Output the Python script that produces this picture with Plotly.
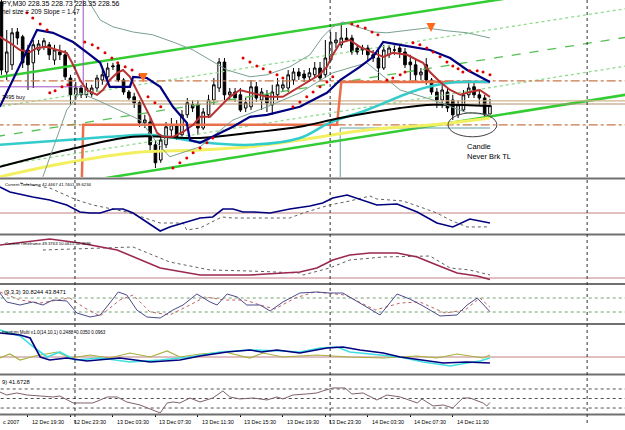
import plotly.graph_objects as go

# ---------------- DATA ----------------
# candle bars (bar index, 30-minute bars; 0 = 12 Dec 19:30)
bar_index = list(range(-5, 88))
open_ = [231.15,229.40,229.58,230.40,230.28,229.95,229.63,229.95,230.03,230.08,229.70,229.90,229.83,229.25,228.83,229.00,228.83,228.85,229.00,229.20,
         229.28,229.53,229.58,229.20,228.90,228.78,228.63,228.13,228.15,227.58,227.20,227.58,227.95,228.08,227.83,228.33,228.58,228.58,228.00,228.33,
         228.70,229.00,229.65,228.83,228.90,228.83,228.50,228.53,229.03,228.70,228.83,228.58,228.83,229.00,229.00,229.20,229.40,229.35,229.28,229.33,
         229.50,229.33,229.70,230.13,230.08,230.25,230.25,230.00,229.95,230.00,229.83,229.75,229.50,229.83,229.95,230.00,229.90,229.65,229.58,229.33,
         229.58,229.20,228.90,228.70,228.90,228.70,228.33,228.45,228.83,229.03,228.83,228.75,228.35]
high = [231.20,230.45,230.50,230.50,230.33,230.08,230.20,230.20,230.25,230.15,230.08,230.08,229.95,229.33,229.15,229.08,229.13,229.08,229.33,229.45,
        229.63,229.63,229.65,229.25,228.95,228.88,228.70,228.33,228.25,227.70,227.83,228.15,228.25,228.20,228.45,228.75,228.70,228.70,228.50,228.83,
        229.25,229.75,229.75,229.00,229.00,229.00,228.75,229.20,229.15,229.00,228.95,229.08,229.25,229.20,229.45,229.50,229.50,229.45,229.50,229.65,
        229.65,230.20,230.40,230.40,230.58,230.50,230.33,230.08,230.08,230.08,229.95,229.95,230.08,230.08,230.08,230.08,230.00,229.83,229.70,229.50,
        229.75,229.25,229.00,229.08,229.00,228.83,228.70,228.95,229.20,229.15,228.95,228.83,228.73]
low = [229.33,229.20,229.45,230.08,229.50,228.95,229.00,229.83,229.95,229.70,229.58,229.70,229.20,228.58,228.70,228.75,228.75,228.78,228.90,229.08,
       229.20,229.45,229.15,228.83,228.70,228.50,228.03,228.00,227.45,227.00,227.13,227.50,227.75,227.70,227.75,228.25,228.40,227.83,227.95,228.25,
       228.58,228.90,228.70,228.70,228.65,228.40,228.40,228.45,228.65,228.45,228.40,228.33,228.70,228.90,228.90,229.08,229.20,229.15,229.20,229.25,
       229.20,229.25,229.65,230.00,230.00,230.15,229.83,229.83,229.83,229.70,229.65,229.20,229.45,229.75,229.83,229.75,229.50,229.20,229.15,229.20,
       229.08,228.83,228.50,228.50,228.40,228.20,228.25,228.40,228.75,228.75,228.58,228.25,228.35]
close = [229.45,229.90,230.38,230.25,229.63,229.58,230.08,230.10,230.18,229.83,229.95,229.83,229.28,228.83,229.00,228.83,229.00,229.00,229.25,229.33,
         229.50,229.55,229.20,228.90,228.75,228.63,228.13,228.20,227.58,227.13,227.70,228.03,228.08,227.78,228.33,228.63,228.50,228.00,228.40,228.70,
         229.08,229.65,228.83,228.90,228.75,228.45,228.63,229.03,228.75,228.90,228.63,228.90,229.08,229.08,229.33,229.40,229.30,229.25,229.38,229.50,
         229.25,229.75,230.15,230.20,230.25,230.20,229.90,229.90,230.00,229.83,229.75,229.50,229.95,230.00,229.95,229.90,229.58,229.58,229.33,229.40,
         229.20,228.90,228.70,228.95,228.50,228.33,228.58,228.83,229.00,228.83,228.75,228.33,228.56]

tick_bars = [-8, 0, 8, 16, 24, 32, 40, 48, 56, 64, 72, 80]
tick_text = ["c 2007", "12 Dec 19:30", "12 Dec 23:30", "13 Dec 03:30", "13 Dec 07:30", "13 Dec 11:30",
             "13 Dec 15:30", "13 Dec 19:30", "13 Dec 23:30", "14 Dec 03:30", "14 Dec 07:30", "14 Dec 11:30"]
day_separators = [8.85, 56.9, 105.3]

# main-window indicator lines (bar, price)
red_t = [-5.3,-3.4,-1.5,0.4,1.7,3.6,5.5,7.3,8.5,9.8,11.1,13.0,14.1,15.4,16.8,17.9,19.2,20.5,21.7,23.0,24.3,25.4,27.3,29.2,31.1,32.4,34.3,
         36.2,38.0,39.9,41.8,45.0,48.0,50.7,53.1,54.9,56.3,57.4,58.8,60.6,62.5,65.0,66.9,68.7,71.4,73.3,74.4,75.7,77.6,79.5,81.4,83.2,85.1,87.0]
red_p = [230.28,230.13,229.95,229.90,230.00,230.03,229.95,229.88,229.58,229.20,228.95,228.83,228.95,229.20,229.38,229.45,229.28,228.95,228.63,
         228.28,227.88,227.78,227.78,227.90,228.08,228.28,228.28,228.53,228.78,228.95,228.88,228.78,228.78,229.00,229.20,229.33,229.53,229.83,
         230.13,230.20,230.03,229.88,229.78,229.88,229.83,229.70,229.63,229.40,229.15,228.95,228.83,228.90,228.95,228.78]
navy_t = [-5.3,1.7,4.7,8.5,11.7,13.6,15.4,19.2,19.8,22.4,24.9,27.3,29.9,30.5,32.4,34.8,38.6,41.8,45.0,51.2,56.3,58.8,62.5,65.0,66.9,70.1,
          75.7,79.5,82.7,87.0]
navy_p = [228.53,230.45,230.38,230.15,229.83,229.63,229.03,229.03,229.28,229.25,229.03,228.53,228.13,227.70,227.63,227.78,228.03,228.28,
          228.33,228.53,228.88,229.20,229.53,229.78,230.15,230.08,229.95,229.75,229.45,229.15]
black_t = [-5.3,7.3,19.8,32.4,41.8,51.2,58.8,70.1,76.3,87.0]
black_p = [227.03,227.45,227.78,227.75,227.88,228.03,228.25,228.50,228.58,228.55]
cyan_t = [-5.3,7.3,15.4,23.0,32.4,41.8,51.2,56.8,63.8,73.3,79.5,87.0]
cyan_p = [227.58,227.70,227.78,227.83,227.65,227.58,227.75,228.13,228.45,228.95,229.13,229.15]
yellow_t = [-5.3,7.3,19.8,32.4,41.8,51.2,63.8,76.3,87.0]
yellow_p = [226.78,227.13,227.38,227.45,227.53,227.70,227.95,228.08,228.25]
band_up_t = [10.7,13.6,16.0,19.8,23.5,27.3,31.1,34.8,37.5,41.8,45.0,49.3,53.1,55.5,57.4,59.3,62.0,65.0,67.6,71.4,75.1,78.9,82.7,87.0]
band_up_p = [231.33,230.70,230.53,230.40,230.33,230.15,229.95,229.65,229.45,229.28,229.33,229.53,229.83,230.28,230.53,230.65,230.53,
             230.40,230.38,230.45,230.50,230.43,230.38,230.25]
band_lo_t = [2.8,7.3,9.8,13.0,21.1,24.3,26.7,32.4,38.6,45.0,51.2,57.4,63.8,70.1,76.3,82.7,87.0]
band_lo_p = [226.78,228.45,228.88,228.70,228.20,227.63,227.28,227.53,228.20,228.53,228.88,229.38,229.63,228.95,228.70,228.38,228.33]
sar_t = [-0.2,0.9,2.3,3.6, 4.1,5.1,6.4,7.5, 10.7,12.1,13.2,14.5,15.8,16.9,18.3,19.6,21.1, 22.6,23.9,25.0,
         27.3,28.6,29.9,31.1,32.4,33.7,34.8, 40.5,41.8,43.1,44.3,45.6,46.9,48.0, 49.9,51.2,52.5,53.7,55.0,56.3,57.4,
         61.0,62.1,63.5,64.8,65.9, 67.6,68.7,70.1,71.0, 72.5,73.8,75.1,76.3,77.6,78.9,80.0,81.0,81.9,83.2,84.6,85.7,87.0]
sar_p = [230.88,230.75,230.60,230.45, 228.88,228.93,229.03,229.08, 230.15,230.08,230.00,229.88,229.75,229.63,229.53,229.45,229.33,
         228.78,228.63,228.53, 227.00,227.13,227.25,227.38,227.50,227.63,227.75, 229.75,229.65,229.55,229.48,229.40,229.33,229.25,
         228.53,228.65,228.78,228.90,229.03,229.15,229.28, 230.60,230.55,230.50,230.40,230.33, 229.20,229.25,229.33,229.40,
         230.13,230.08,230.00,229.90,229.78,229.65,229.55,229.48,229.40,229.43,229.43,229.40,229.33]
arrow_t = [21.7, 75.9]
arrow_p = [229.15, 230.40]
chan_t = [-6, 113]
chan_upper = [229.26, 231.71]
chan_lower = [226.31, 228.84]
chan_frac = [0.25, 0.5, 0.75]
dashdot_levels = [229.18, 228.08]
tan_levels = [228.68, 228.60]
step_t = [10.1, 10.4, 58.2, 59.0, 87.0]
step_p = [226.50, 228.08, 228.08, 229.15, 229.15]
teal_t = [58.8, 58.8, 87.0]
teal_p = [226.50, 228.00, 228.00]
purple_t = [-6, 10.4, 10.4]
purple_p = [229.03, 229.03, 231.30]
ellipse_t = [79.1, 88.3]
ellipse_p = [227.78, 228.38]
note_t, note_p = 82.3, 227.70

# sub-window 1
p1_t = [-5.3,-3.4,0.9,4.1,7.3,9.8,11.7,13.6,16.0,17.9,19.8,22.4,24.9,26.7,29.9,32.4,34.8,36.7,38.6,40.5,42.4,45.6,49.3,53.1,55.5,
        57.4,60.1,62.5,65.7,69.5,73.3,77.0,80.0,83.2,85.7,87.0]
p1_v = [69.5,65.75,62.0,59.75,56.0,50.75,50.0,50.0,53.0,53.0,50.0,43.25,36.5,39.5,43.25,46.25,47.0,53.0,53.0,50.75,50.75,50.0,53.0,
        55.25,57.5,61.25,63.5,60.5,56.0,56.75,50.75,42.5,39.5,45.5,43.25,42.45]
p1s_t = [-1.5,4.1,9.2,12.2,18.6,24.9,29.2,29.9,32.4,34.8,36.5,38.6,43.7,49.3,51.8,56.8,60.6,64.4,65.7,70.6,74.4,77.0,79.5,82.7,87.0]
p1s_v = [72.5,68.75,59.75,56.0,50.75,42.5,42.5,37.25,38.75,43.25,47.0,46.25,46.25,46.25,50.0,56.0,59.0,62.75,60.5,59.0,53.75,50.0,
         44.75,39.5,39.62]
# sub-window 2
p2_t = [-5.3,4.1,9.8,16.8,24.9,32.4,41.8,51.2,54.4,57.4,60.6,64.4,69.5,73.3,77.0,80.8,84.6,87.0]
p2_v = [63.2,65.6,64.0,61.2,54.0,51.2,51.2,52.4,54.0,57.2,59.2,60.0,60.0,58.4,55.2,52.0,50.8,49.38]
p2s_t = [2.8,19.8,26.7,34.3,41.8,51.2,51.8,56.8,60.6,66.9,75.7,79.5,83.2,87.0]
p2s_v = [61.2,62.4,56.4,53.2,52.8,52.0,51.2,54.0,57.2,58.4,58.8,54.0,53.2,51.2]
# sub-window 3 (stochastic 9,3,3)
p3_t = [-5.3,-4.0,-1.5,0.9,2.8,4.7,7.3,9.2,11.7,13.6,15.4,17.0,18.6,20.5,22.4,24.9,27.3,29.2,31.8,34.3,35.6,37.5,39.4,41.2,43.7,
        45.6,48.0,51.2,54.4,56.8,59.3,62.5,66.3,69.5,71.9,74.4,77.6,80.8,82.7,84.6,87.0]
p3_v = [84.3,58.6,50.0,58.6,50.0,64.3,61.5,27.1,15.7,21.4,55.7,87.2,78.6,35.7,15.7,12.8,35.7,50.0,81.5,58.6,50.0,81.5,72.9,50.0,
        50.0,32.9,58.6,84.3,87.2,84.3,84.3,55.7,21.4,81.5,67.2,47.2,18.6,21.4,50.0,70.0,30.8]
p3s_t = [-5.3,-1.5,2.3,7.9,10.7,13.6,17.3,19.8,23.0,26.7,30.5,33.3,37.1,40.9,43.7,46.5,50.3,54.0,59.7,65.4,70.1,73.8,78.5,82.3,85.1,87.0]
p3s_v = [87.2,64.3,55.7,70.0,41.4,18.6,64.3,78.6,30.0,21.4,50.0,72.9,64.3,64.3,50.0,38.6,70.0,87.2,78.6,35.7,55.7,58.6,27.1,35.7,
         70.0,43.85]
p3_levels = [70, 30]
# sub-window 4 (momentum multi)
p4n_t = [-5.3,-1.5,0.4,2.3,4.1,7.3,11.1,13.6,17.3,23.0,28.6,32.4,37.5,41.8,44.0,46.9,51.2,56.3,59.3,62.5,66.9,70.1,74.4,78.2,82.7,87.0]
p4n_v = [0.96,0.88,0.76,0.0,-0.12,-0.04,-0.16,-0.12,-0.04,-0.20,-0.12,0.04,0.20,0.28,0.20,0.28,0.16,0.36,0.40,0.28,0.16,0.0,
         -0.12,-0.24,-0.20,-0.24]
p4c_t = [-5.3,-1.5,1.3,3.6,6.0,8.9,13.6,19.2,24.9,30.5,36.2,41.8,48.0,51.2,55.0,58.2,60.6,66.9,70.1,74.4,79.5,82.7,85.1,87.0]
p4c_v = [1.08,0.84,0.36,0.0,0.20,-0.12,-0.04,-0.20,-0.12,0.0,0.20,0.28,0.24,0.20,0.36,0.40,0.20,0.08,0.0,-0.20,-0.36,-0.24,
         -0.16,-0.04]
p4o_t = [-5.3,-3.4,-1.5,1.3,5.5,7.9,11.7,15.4,19.2,23.0,26.2,28.6,32.4,37.1,41.8,44.3,48.0,54.4,60.6,66.9,73.3,77.0,80.8,83.2,85.7,87.0]
p4o_v = [-0.04,0.12,-0.12,0.04,0.20,-0.04,0.08,-0.04,0.16,0.0,0.24,0.0,0.12,0.20,-0.04,0.16,0.0,0.08,0.0,-0.04,0.04,-0.04,0.12,
         0.04,-0.04,0.08]
# sub-window 5 (RSI 9)
p5_t = [-5.3,-4.0,-2.1,-0.2,2.3,4.7,6.0,8.5,10.4,12.2,13.6,14.9,16.8,18.6,21.1,23.0,24.9,26.2,27.3,28.6,30.5,32.4,34.8,36.7,38.0,
        39.9,42.4,45.0,46.9,48.0,49.9,52.5,54.4,55.5,57.4,59.7,61.0,63.1,65.7,67.6,70.1,73.3,74.2,76.3,78.2,80.0,81.9,83.2,85.7,86.4,87.0]
p5_v = [63.7,57.4,61.6,57.4,55.3,53.2,55.3,40.6,40.6,40.6,46.9,53.2,53.2,42.7,36.4,28.0,19.6,40.6,42.7,40.6,51.1,42.7,51.1,65.8,
        53.2,49.0,51.1,46.9,53.2,49.0,57.4,59.5,61.6,65.8,72.1,72.1,59.5,61.6,46.9,57.4,53.2,40.6,49.0,34.3,36.4,30.1,51.1,51.1,
        40.6,34.3,41.67]
p5_levels = [70, 50, 30]

# ---------------- FIGURE ----------------
W, H = 625, 430
T0, T1 = -5.27, 112.43
FONT = "Liberation Sans, Arial, sans-serif"


def dom(top_px, bot_px):
    return [1 - bot_px / H, 1 - top_px / H]


fig = go.Figure()


def line(x, y, ax, color, width=1.0, dash="solid", shape="linear"):
    fig.add_trace(go.Scatter(x=x, y=y, mode="lines", xaxis="x", yaxis=ax, hoverinfo="skip",
                             line=dict(color=color, width=width, dash=dash, shape=shape)))


# channel
line(chan_t, chan_upper, "y", "#33cc33", 2.5)
line(chan_t, chan_lower, "y", "#33cc33", 2.5)
for frac, dsh, col in zip(chan_frac, ["dot", "dash", "dot"], ["#8fdc8f", "#55c055", "#8fdc8f"]):
    line(chan_t, [u + (l - u) * frac for u, l in zip(chan_upper, chan_lower)], "y", col, 1.3, dsh)
# horizontal levels
for lv in dashdot_levels:
    line([T0 - 1, T1 + 1], [lv, lv], "y", "#c8784a", 1.2, "dashdot")
for lv, col in zip(tan_levels, ["#d2b48c", "#b09070"]):
    line([T0 - 1, T1 + 1], [lv, lv], "y", col, 1.2)
line(purple_t, purple_p, "y", "#a050c0", 1)
line(teal_t, teal_p, "y", "#5f9ea0", 1)
line(step_t, step_p, "y", "#e8704a", 2.5)
line(yellow_t, yellow_p, "y", "#f2f060", 3, shape="spline")
line(cyan_t, cyan_p, "y", "#33cccc", 2.5, shape="spline")
line(black_t, black_p, "y", "#000000", 2, shape="spline")
line(band_up_t, band_up_p, "y", "#7aa090", 1)
line(band_lo_t, band_lo_p, "y", "#7aa090", 1)

fig.add_trace(go.Candlestick(
    x=bar_index, open=open_, high=high, low=low, close=close, xaxis="x", yaxis="y",
    increasing=dict(line=dict(color="black", width=1), fillcolor="white"),
    decreasing=dict(line=dict(color="black", width=1), fillcolor="black"),
    whiskerwidth=0, hoverinfo="skip"))

line(red_t, red_p, "y", "#b83232", 2)
line(navy_t, navy_p, "y", "#000080", 2.2)
fig.add_trace(go.Scatter(x=sar_t, y=sar_p, mode="markers", xaxis="x", yaxis="y", hoverinfo="skip",
                         marker=dict(color="#e00000", size=3)))
fig.add_trace(go.Scatter(x=arrow_t, y=arrow_p, mode="markers", xaxis="x", yaxis="y", hoverinfo="skip",
                         marker=dict(color="#ff6a1a", size=9, symbol="arrow-down")))

# sub-windows
line([T0 - 1, T1 + 1], [50, 50], "y2", "#c08080", 1)
line(p1s_t, p1s_v, "y2", "#606060", 1, "dot")
line(p1_t, p1_v, "y2", "#000080", 1.6)

line([T0 - 1, T1 + 1], [50, 50], "y3", "#c08080", 1)
line(p2s_t, p2s_v, "y3", "#606060", 1, "dot")
line(p2_t, p2_v, "y3", "#9a2850", 1.6)

for lv in p3_levels:
    line([T0 - 1, T1 + 1], [lv, lv], "y4", "#70a070", 1, "dot")
line(p3s_t, p3s_v, "y4", "#c06060", 1, "dot")
line(p3_t, p3_v, "y4", "#4b4b8b", 1)

line([T0 - 1, T1 + 1], [0, 0], "y5", "#c08080", 1)
line(p4o_t, p4o_v, "y5", "#a8b040", 1.2)
line(p4c_t, p4c_v, "y5", "#40e0e0", 1.6)
line(p4n_t, p4n_v, "y5", "#000080", 1.6)

for lv in p5_levels:
    line([T0 - 1, T1 + 1], [lv, lv], "y6", "#505050", 1, "dot")
line(p5_t, p5_v, "y6", "#806070", 1)

ax_common = dict(showgrid=False, zeroline=False, showticklabels=False, showline=False, ticks="", anchor="x", fixedrange=True)
layout = dict(
    width=W, height=H, margin=dict(l=0, r=0, t=0, b=0), paper_bgcolor="white", plot_bgcolor="white",
    showlegend=False, font=dict(family=FONT, color="black"),
    xaxis=dict(range=[T0, T1], anchor="y6", showgrid=False, zeroline=False, showticklabels=False, showline=False,
               ticks="outside", tickvals=tick_bars, ticklen=3, tickcolor="black", tickwidth=1,
               rangeslider=dict(visible=False), fixedrange=True),
    yaxis=dict(domain=dom(0, 177), range=[226.775, 231.20], **ax_common),
    yaxis2=dict(domain=dom(180, 233), range=[35.0, 74.75], **ax_common),
    yaxis3=dict(domain=dom(236, 283), range=[48.0, 66.8], **ax_common),
    yaxis4=dict(domain=dom(285, 323), range=[-1.46, 107.2], **ax_common),
    yaxis5=dict(domain=dom(325, 373), range=[-0.64, 1.28], **ax_common),
    yaxis6=dict(domain=dom(376, 413), range=[19.55, 97.25], **ax_common),
)
fig.update_layout(**layout)

shapes = []
for py in [178.5, 234.5, 284, 324, 374.5, 414.5]:
    shapes.append(dict(type="line", xref="paper", yref="paper", x0=0, x1=1, y0=1 - py / H, y1=1 - py / H,
                       line=dict(color="#707070", width=2)))
for d in day_separators:
    shapes.append(dict(type="line", xref="x", yref="paper", x0=d, x1=d, y0=1 - 423 / H, y1=1,
                       line=dict(color="#303030", width=1, dash="dot")))
shapes.append(dict(type="circle", xref="x", yref="y", x0=ellipse_t[0], x1=ellipse_t[1], y0=ellipse_p[0],
                   y1=ellipse_p[1], line=dict(color="#404040", width=1)))
fig.update_layout(shapes=shapes)


def xpaper(t):
    return (t - T0) / (T1 - T0)


ann = []
for t, txt in zip(tick_bars, tick_text):
    xp = max(xpaper(t) + 2 / W, 0.5 / W)
    ann.append(dict(x=xp, y=1 - 422 / H, xref="paper", yref="paper", text=txt, showarrow=False,
                    xanchor="left", yanchor="middle", font=dict(size=5.4, family=FONT, color="black")))


def label(txt, py, size, px=1):
    ann.append(dict(x=px / W, y=1 - py / H, xref="paper", yref="paper", text=txt, showarrow=False,
                    xanchor="left", yanchor="middle", font=dict(size=size, family=FONT, color="black")))


label("PY,M30 228.35 228.73 228.35 228.56", 3.5, 7.0, 0)
label("nel size = 209 Slope = 1.47", 12, 6.4, 0)
label("3495 buy", 97, 5.6, 0)
label("Current Timeframe 42.4467 41.7401 39.6234", 184, 4.3, 3)
label("Current Timeframe 49.3763 50.0615 50.4696", 243, 4.3, 3)
label("(9,3,3) 30.8244 43.8471", 292, 5.8, 2)
label("mentum Multi v1.0(14,10,1) 0.2488 -0.0350 0.0963", 332, 4.6, 0)
label("9) 41.6728", 382, 5.8, 0)
ann.append(dict(x=note_t, y=note_p, xref="x", yref="y", text="Candle<br>Never Brk TL", showarrow=False,
                xanchor="left", yanchor="top", align="left", font=dict(size=7.5, family=FONT, color="black")))
fig.update_layout(annotations=ann)

fig.write_html("out.html")
